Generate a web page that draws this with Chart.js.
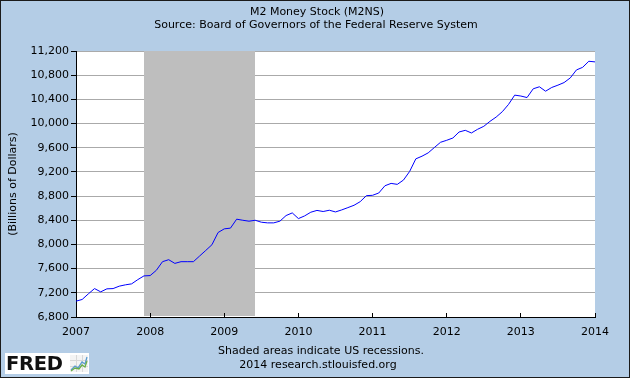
<!DOCTYPE html>
<html>
<head>
<meta charset="utf-8">
<script src="https://cdn.jsdelivr.net/npm/chart.js@4.4.0/dist/chart.umd.min.js"></script>
<style>
html,body{margin:0;padding:0;background:#b4cde6;}
#wrap{position:relative;width:630px;height:378px;overflow:hidden;background:#b4cde6;}
#c{position:absolute;left:0;top:0;}
.t{position:absolute;transform:translateX(-50%);font-family:"DejaVu Sans";font-size:11px;line-height:13px;color:#000;white-space:nowrap;}
#frame{position:absolute;left:0;top:0;width:628px;height:376px;border:1px solid #1a1a1a;pointer-events:none;}
#logo{position:absolute;left:5px;top:353px;width:84px;height:21px;background:#fff;}
#logo span{position:absolute;left:1px;top:0px;font-family:"DejaVu Sans";font-weight:bold;font-size:19.5px;line-height:21px;color:#111;letter-spacing:-0.3px;}
#logo svg{position:absolute;left:65px;top:2px;}
</style>
</head>
<body>
<div id="wrap">
  <canvas id="c" width="630" height="378"></canvas>
  <div class="t" style="left:317px;top:5px;">M2 Money Stock (M2NS)</div>
  <div class="t" style="left:316px;top:18px;">Source: Board of Governors of the Federal Reserve System</div>
  <div class="t" style="left:321px;top:344px;">Shaded areas indicate US recessions.</div>
  <div class="t" style="left:318px;top:358px;">2014 research.stlouisfed.org</div>
  <div id="logo"><span>FRED</span>
    <svg width="18" height="17" viewBox="0 0 18 17">
      <rect x="0" y="0" width="18" height="17" fill="#f4f4f4"/>
      <path d="M0 5.5H18M0 11.5H18M6.5 0V17M12.5 0V17" stroke="#d8d8d8" stroke-width="1"/>
      <polyline points="1,15 5,11 8,13 12,7 15,9 17,2" fill="none" stroke="#5a9bd0" stroke-width="1.3"/>
      <polyline points="1,16 5,13 9,14 12,10 15,12 17,6" fill="none" stroke="#6aae4a" stroke-width="1.3"/>
    </svg>
  </div>
  <div id="frame"></div>
</div>
<script>
// ---- data ----
const yearLabels = ['2007','2008','2009','2010','2011','2012','2013','2014'];
const m2_2007 = [7062, 7090, 7183, 7270, 7216, 7266, 7270, 7310, 7332, 7348, 7418, 7480];
const m2_2008 = [7485, 7572, 7715, 7748, 7687, 7715, 7715, 7715, 7808, 7901, 7995, 8198];
const m2_2009 = [8258, 8270, 8418, 8400, 8385, 8400, 8368, 8357, 8357, 8385, 8478, 8522];
const m2_2010 = [8428, 8472, 8533, 8563, 8545, 8566, 8538, 8571, 8609, 8648, 8708, 8807];
const m2_2011 = [8813, 8851, 8971, 9010, 8994, 9065, 9208, 9416, 9460, 9515, 9603, 9690];
const m2_2012 = [9723, 9761, 9860, 9888, 9844, 9905, 9954, 10036, 10107, 10196, 10316, 10470];
const m2_2013 = [10455, 10430, 10575, 10608, 10535, 10597, 10635, 10678, 10755, 10887, 10930, 11030];
const m2_2014 = [11020];
const yTickValues = [6800, 7200, 7600, 8000, 8400, 8800, 9200, 9600, 10000, 10400, 10800, 11200];
const recessionStart = '2007-12';
const recessionEnd = '2009-06';

// ---- build points (x = year + month/12) ----
const seriesByYear = [m2_2007, m2_2008, m2_2009, m2_2010, m2_2011, m2_2012, m2_2013, m2_2014];
const points = [];
seriesByYear.forEach((vals, yi) => {
  vals.forEach((v, mi) => points.push({ x: Number(yearLabels[yi]) + mi / 12, y: v }));
});
function ymToX(s) { const p = s.split('-'); return Number(p[0]) + (Number(p[1]) - 1) / 12; }

function align(px) { return Math.round(px - 0.5) + 0.5; }

const bgPlugin = {
  id: 'bgPlugin',
  beforeDraw(chart) {
    const { ctx, chartArea: a } = chart;
    ctx.save();
    ctx.fillStyle = '#b4cde6';
    ctx.fillRect(0, 0, chart.width, chart.height);
    ctx.fillStyle = '#ffffff';
    ctx.fillRect(a.left, a.top, a.right - a.left, a.bottom - a.top);
    ctx.restore();
  },
  beforeDatasetsDraw(chart) {
    const { ctx, chartArea: a } = chart;
    const xs = chart.scales.x;
    const x0 = Math.round(xs.getPixelForValue(ymToX(recessionStart)));
    const x1 = Math.round(xs.getPixelForValue(ymToX(recessionEnd)));
    ctx.save();
    ctx.fillStyle = '#bebebe';
    ctx.fillRect(x0, Math.round(a.top), x1 - x0, Math.round(a.bottom) - Math.round(a.top) - 1);
    // re-draw the inside x tick marks covered by the shading
    ctx.strokeStyle = '#000';
    ctx.lineWidth = 1;
    xs.ticks.forEach((t, i) => {
      const px = align(xs.getPixelForTick(i));
      if (px >= x0 && px <= x1) {
        ctx.beginPath();
        ctx.moveTo(px, a.bottom);
        ctx.lineTo(px, a.bottom - 4);
        ctx.stroke();
      }
    });
    ctx.restore();
  }
};

Chart.defaults.font.family = 'DejaVu Sans';
Chart.defaults.font.size = 11;
Chart.defaults.color = '#000';

new Chart(document.getElementById('c'), {
  type: 'line',
  data: {
    datasets: [{
      label: 'M2NS',
      data: points,
      borderColor: '#0000ff',
      borderWidth: 1,
      pointRadius: 0,
      tension: 0,
      fill: false
    }]
  },
  options: {
    responsive: false,
    animation: false,
    devicePixelRatio: 1,
    layout: { padding: { top: 51, right: 35, bottom: 0, left: 0 } },
    plugins: { legend: { display: false }, tooltip: { enabled: false }, title: { display: false } },
    scales: {
      x: {
        type: 'linear',
        min: Number(yearLabels[0]),
        max: Number(yearLabels[yearLabels.length - 1]),
        afterBuildTicks(scale) { scale.ticks = yearLabels.map(y => ({ value: Number(y) })); },
        afterFit(scale) { scale.height = 378 - 317; },
        ticks: {
          padding: 13,
          maxRotation: 0,
          autoSkip: false,
          callback(v) { return String(v); }
        },
        grid: { drawOnChartArea: false, drawTicks: true, tickLength: -4, tickColor: '#000', color: '#000' },
        border: { display: true, color: '#000', width: 1 }
      },
      y: {
        type: 'linear',
        min: yTickValues[0],
        max: yTickValues[yTickValues.length - 1],
        afterBuildTicks(scale) { scale.ticks = yTickValues.map(v => ({ value: v })); },
        afterFit(scale) { scale.width = 76; },
        ticks: {
          padding: 2,
          autoSkip: false,
          callback(v) { return v.toLocaleString('en-US'); }
        },
        title: { display: true, text: '(Billions of Dollars)', font: { size: 11 }, padding: { top: 7, bottom: 0 } },
        grid: { color: '#aaaaaa', lineWidth: 1, drawTicks: true, tickLength: 5, tickColor: '#000' },
        border: { display: true, color: '#000', width: 1 }
      }
    }
  },
  plugins: [bgPlugin]
});
</script>
</body>
</html>
